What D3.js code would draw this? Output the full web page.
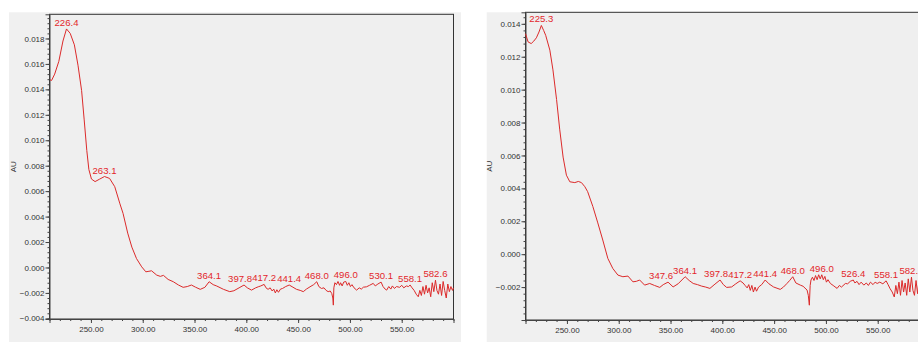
<!DOCTYPE html>
<html>
<head>
<meta charset="utf-8">
<script src="https://cdn.jsdelivr.net/npm/d3@7"></script>
<style>
  body { margin: 0; background: #fff; }
  svg { display: block; font-family: "Liberation Sans", Arial, sans-serif; }
  .tick text { fill: #333; font-size: 8px; }
  .domain, .tick line { stroke: #444; }
  .peak { fill: #e3262b; font-size: 9.6px; text-anchor: middle; }
</style>
</head>
<body>
<div id="chartDiv"></div>
<script>
// spectrum 1 (left) : wavelength nm / absorbance mAU
const nm1 = [210.5,212,215,219,223,226.4,230,234,237.5,241,243.5,246,248,250.5,254,258.5,263.1,268,273,278,281,285.5,289.5,294,299,303,306,308.5,313.5,317,320,324.5,329.5,334.5,339,343,347,351,355.5,360,364.1,368,371.5,378,384,388,393,397.8,401,405,409,411.5,414,417.2,419,421,423,425,426.5,428,429.5,431,433,435,438,441.4,445,448.5,452,455,458,461.5,465,468,470,472.5,475,477,479,481,482.5,483.5,484,484.5,485.5,487,488.5,490,491,492.5,494,496,497.5,499,500.5,502,504,506.5,509,511,513,516,519,522.5,524.5,527,530.1,532,534,535.5,537.5,539.5,541,543,545,548,550,552,554.5,556.5,558.1,560,562,564,566,567.5,569,570.5,572,573.5,575,576.5,578,579.5,581,582.6,584,585.5,587,588.5,590,591.5,593,594.5,596,597.5,599,600];
const mau1 = [14.75,14.7,15.2,16.2,17.8,18.75,18.4,17.5,15.9,13.9,11.6,9.2,7.7,6.95,6.75,6.95,7.15,7.0,6.35,5.0,4.25,2.7,1.6,0.7,0.05,-0.34,-0.3,-0.26,-0.6,-0.7,-0.62,-0.94,-1.12,-1.38,-1.56,-1.5,-1.38,-1.55,-1.72,-1.56,-1.12,-1.35,-1.46,-1.72,-1.9,-1.83,-1.6,-1.38,-1.6,-1.78,-1.6,-1.52,-1.45,-1.33,-1.6,-1.72,-1.6,-1.85,-1.7,-2.0,-1.75,-1.95,-1.7,-1.65,-1.5,-1.38,-1.55,-1.72,-1.8,-1.9,-1.7,-1.52,-1.35,-1.12,-1.5,-1.65,-1.6,-1.8,-1.9,-1.85,-2.05,-2.4,-2.96,-1.6,-1.2,-1.35,-1.1,-1.4,-1.2,-1.45,-1.15,-1.1,-1.4,-1.2,-1.5,-1.35,-1.6,-1.78,-1.6,-1.7,-1.55,-1.52,-1.4,-1.25,-1.45,-1.3,-1.15,-1.5,-1.7,-1.78,-1.5,-1.7,-1.45,-1.65,-1.5,-1.56,-1.4,-1.6,-1.45,-1.5,-1.38,-1.6,-1.8,-2.1,-2.3,-1.8,-2.2,-1.5,-2.1,-1.4,-2.0,-1.6,-2.3,-1.2,-1.9,-1.0,-1.8,-2.1,-1.3,-2.2,-1.1,-1.8,-2.4,-1.3,-1.9,-1.5,-1.8,-1.6];
const peaks1 = [226.4, 263.1, 364.1, 397.8, 417.2, 441.4, 468.0, 496.0, 530.1, 558.1, 582.6];

// spectrum 2 (right)
const nm2 = [210,212.5,215.5,218,220.5,223,225.3,227.5,229.5,233.5,236.5,240,243,246.3,249.5,252.8,257.6,261,264,267.3,270,272.5,275,279.8,284.6,289.5,294.3,299.2,304,308.9,313.7,317,320.2,325,329.9,334.5,339.6,343,347.6,352.5,357.3,364.1,368,371.9,376,380,384,388,392.9,397.8,401,404.2,409,413,417.2,420,422,424,425.5,427,428.5,430,431.6,433,435,438,441.4,445,449.4,455.9,459,462.4,465,468,471,475.3,478,481.8,483,484,484.8,485.6,487,488.5,490,491.5,493,494.5,496,497.5,499,500.5,502,504.3,507,510.8,513,515,518.8,521,523.5,526.4,528,530,532,534,536.6,539,541,543,545.5,547.5,549.5,552,555,558.1,560,562,564,566,567.5,569,570.5,572,573.5,575,576.5,578,579.5,581,582.6,584,585.5,587,588.5,590,591.5,593,595,597,599,600];
const mau2 = [13.4,12.9,12.8,12.95,13.15,13.5,13.9,13.6,13.3,12.4,11.2,9.4,7.6,5.9,4.8,4.4,4.35,4.42,4.35,4.1,3.8,3.35,2.9,1.9,0.86,-0.26,-0.87,-1.27,-1.37,-1.33,-1.68,-1.65,-1.57,-1.88,-1.78,-1.9,-2.02,-1.85,-1.7,-1.99,-1.8,-1.37,-1.6,-1.78,-1.85,-1.94,-2.0,-2.08,-1.82,-1.57,-1.85,-2.02,-1.99,-1.8,-1.62,-1.75,-1.9,-2.05,-1.85,-2.2,-1.9,-2.3,-2.0,-2.25,-2.0,-1.85,-1.57,-1.8,-1.99,-2.14,-2.0,-1.78,-1.6,-1.37,-1.75,-1.88,-1.95,-2.18,-2.5,-3.1,-1.9,-1.57,-1.4,-1.6,-1.3,-1.55,-1.25,-1.5,-1.25,-1.55,-1.35,-1.7,-1.55,-1.78,-1.9,-2.08,-1.9,-2.0,-1.78,-1.8,-1.65,-1.57,-1.75,-1.65,-1.85,-1.7,-1.88,-1.75,-1.9,-1.7,-1.85,-1.7,-1.78,-1.7,-1.8,-1.62,-1.85,-2.1,-2.3,-2.6,-1.9,-2.4,-1.7,-2.5,-1.6,-2.3,-1.75,-2.5,-1.5,-2.3,-1.4,-2.2,-2.5,-1.6,-2.4,-1.5,-2.2,-1.8,-2.3,-1.7,-2.0,-1.9];
const peaks2 = [225.3, 347.6, 364.1, 397.8, 417.2, 441.4, 468.0, 496.0, 526.4, 558.1, 582.6];

const xTicks = [250, 300, 350, 400, 450, 500, 550];
const yTicks1 = [-0.004, -0.002, 0, 0.002, 0.004, 0.006, 0.008, 0.010, 0.012, 0.014, 0.016, 0.018];
const yTicks2 = [-0.002, 0, 0.002, 0.004, 0.006, 0.008, 0.010, 0.012, 0.014];

const W = 918, H = 342;
const svg = d3.select('#chartDiv').append('svg').attr('width', W).attr('height', H);

function drawPanel(p){
    // outer gray box
    svg.append('rect')
        .attr('x', p.box[0]).attr('y', p.box[1])
        .attr('width', p.box[2]).attr('height', p.box[3])
        .attr('fill', '#f0f0f0');

    const x = d3.scaleLinear().domain([210, 600]).range([p.left, p.left + 404]);
    const y = d3.scaleLinear().domain(p.yDom).range([p.bottom, p.top]);

    const g = svg.append('g');

    // frame
    g.append('rect')
        .attr('x', p.left).attr('y', p.top)
        .attr('width', 404).attr('height', p.bottom - p.top)
        .attr('fill', '#efefef').attr('stroke', '#333').attr('stroke-width', 1);

    // minor ticks
    const xMinor = d3.range(210, 601, 10);
    const yMinor = d3.range(-0.004, p.yDom[1], 0.0004);
    g.append('g').attr('transform', `translate(0,${p.bottom})`)
        .call(d3.axisBottom(x).tickValues(xMinor).tickSize(2).tickFormat(''))
        .call(a => a.select('.domain').remove());
    g.append('g').attr('transform', `translate(${p.left},0)`)
        .call(d3.axisLeft(y).tickValues(yMinor.filter(v => v >= p.yDom[0])).tickSize(2).tickFormat(''))
        .call(a => a.select('.domain').remove());

    // major axes
    g.append('g').attr('transform', `translate(0,${p.bottom})`)
        .call(d3.axisBottom(x).tickValues(xTicks).tickSize(4).tickPadding(3).tickFormat(d3.format('.2f')))
        .call(a => a.select('.domain').attr('stroke', '#333'));
    g.append('g').attr('transform', `translate(${p.left},0)`)
        .call(d3.axisLeft(y).tickValues(p.yTicks).tickSize(4).tickPadding(1).tickFormat(d3.format('.3f')))
        .call(a => a.select('.domain').attr('stroke', '#333'));

    // axis titles
    g.append('text')
        .attr('transform', `translate(${p.left - 33.5},${(p.top + p.bottom) / 2}) rotate(-90)`)
        .attr('text-anchor', 'middle').attr('font-size', 8).attr('fill', '#333')
        .text('AU');
    g.append('text')
        .attr('x', p.left + 202).attr('y', p.bottom + 27)
        .attr('text-anchor', 'middle').attr('font-size', 8).attr('fill', '#333')
        .text('nm');

    // spectrum
    const pts = p.nm.map((d, i) => [d, p.mau[i] / 1000]);
    g.append('path')
        .datum(pts)
        .attr('d', d3.line().x(d => x(d[0])).y(d => y(d[1])))
        .attr('fill', 'none')
        .attr('stroke', '#dc2a2a')
        .attr('stroke-width', 1);

    // peak labels
    const labels = g.selectAll('.peak')
        .data(p.peaks)
        .enter().append('text')
        .attr('class', 'peak')
        .attr('x', d => x(d))
        .attr('y', d => {
            let near = pts.reduce((a, b) => Math.abs(b[0] - d) < Math.abs(a[0] - d) ? b : a);
            return y(near[1]) - 3;
        })
        .text(d => d.toFixed(1));

    // push crowded labels to the left so they just touch
    const nodes = labels.nodes();
    for (let i = nodes.length - 2; i >= 0; i--) {
        const a = nodes[i], b = nodes[i + 1];
        const wa = a.getComputedTextLength(), wb = b.getComputedTextLength();
        const ax = +a.getAttribute('x'), bx = +b.getAttribute('x');
        const gap = (bx - wb / 2) - (ax + wa / 2);
        if (gap < 0 && Math.abs(+a.getAttribute('y') - +b.getAttribute('y')) < 10) {
            a.setAttribute('x', ax + gap);
        }
    }
}

drawPanel({
    box: [9, 12.3, 452, 330],
    left: 49.5, top: 14.3, bottom: 319,
    yDom: [-0.00405, 0.0199], yTicks: yTicks1,
    nm: nm1, mau: mau1, peaks: peaks1
});

drawPanel({
    box: [486.7, 12.3, 440, 330],
    left: 525.5, top: 12.3, bottom: 320,
    yDom: [-0.004, 0.0147], yTicks: yTicks2,
    nm: nm2, mau: mau2, peaks: peaks2
});
</script>
</body>
</html>
